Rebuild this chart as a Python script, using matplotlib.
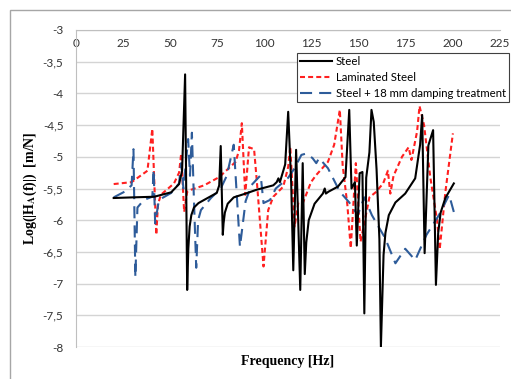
import numpy as np
import matplotlib
matplotlib.use("Agg")
from matplotlib import pyplot as plt
from matplotlib.ticker import FuncFormatter, MultipleLocator

plt.rcParams['font.family'] = ['Lato', 'DejaVu Sans']
plt.rcParams['mathtext.fontset'] = 'stix'

# Steel
steel_f = [20, 30, 41.5, 50.5, 54.7, 56.3, 57.9, 59.0, 59.6, 60.3, 61.2, 62.6, 65, 68, 74.7, 76.0,
           76.8, 77.9, 78.3, 79, 80.5, 83.7, 90, 95.8, 104.7, 106.5, 107.4, 108.2, 111, 112.6,
           114.2, 115.3, 116.8, 119.0, 120.3, 121.4, 122.2, 123.5, 126.6, 131, 132, 132.6, 134, 139,
           143, 145, 146.2, 148, 149, 150.5, 152, 153, 154, 155.7, 156.8, 158, 159.5, 161,
           161.8, 163.2, 164.2, 166, 169.5, 174.7, 180, 182.6, 183.7, 185, 187, 189.5, 191, 192.2,
           193.5, 196, 200.5]
steel_h = [-5.65, -5.64, -5.63, -5.56, -5.43, -5.22, -3.70, -7.10, -6.45, -6.10, -5.92, -5.80, -5.73,
           -5.68, -5.57, -5.45, -4.83, -6.23, -6.05, -5.88, -5.74, -5.64, -5.58, -5.52, -5.45, -5.40,
           -5.34, -5.40, -5.12, -4.29, -5.42, -6.79, -4.89, -7.10, -5.10, -6.85, -6.35, -6.0, -5.74,
           -5.58, -5.50, -5.58, -5.55, -5.47, -5.32, -4.26, -5.50, -5.40, -6.40, -5.26, -5.24,
           -7.47, -5.33, -4.93, -4.26, -4.45, -5.2, -6.3, -8.0, -6.55, -6.2, -5.92, -5.72, -5.58,
           -5.34, -4.81, -4.34, -6.52, -4.82, -4.58, -7.02, -6.2, -5.88, -5.65, -5.42]

# Laminated Steel
lam_f = [20, 29.5, 37.9, 40.5, 42.6, 43.5, 45, 52, 54.7, 55.8, 57.4, 59, 61, 68, 76, 84.7,
         86.5, 88, 89.8, 91.8, 94.5, 96, 99.5, 102, 104.7, 110, 112.6, 113.7, 116, 118, 120.5,
         124.7, 127.4, 133.7, 137, 140, 141.5, 144, 145.8, 148.5, 151, 155.7, 159, 163,
         165.5, 166.8, 168.5, 173, 176.5, 178, 181, 182.3, 184.7, 188, 191.6, 193, 196, 200]
lam_h = [-5.43, -5.40, -5.22, -4.56, -6.23, -5.75, -5.60, -5.42, -5.25, -4.95, -5.87, -5.55,
         -5.52, -5.45, -5.32, -5.08, -4.9, -4.47, -5.60, -4.85, -4.88, -5.4, -6.73, -5.84,
         -5.63, -5.47, -5.16, -4.84, -6.10, -5.72, -5.72, -5.40, -5.29, -5.08, -4.81, -4.26,
         -5.13, -5.76, -6.44, -5.10, -6.34, -5.64, -5.56, -5.42, -5.22, -5.58, -5.3, -5.0,
         -4.85, -5.05, -4.6, -4.2, -4.5, -5.32, -6.0, -6.46, -5.56, -4.63]

# Steel + 18 mm damping treatment
damp_f = [20, 25.8, 29.5, 30.5, 31.5, 32.6, 36, 40.5, 41.2, 42, 44, 50.5, 54.7, 55.8, 57,
          59.5, 60.5, 61.5, 62.5, 63.8, 64.8, 66.3, 71.6, 76.8, 80, 83.7, 87, 90, 93, 98,
          99.5, 103, 106, 110, 112.6, 116, 119.6, 122, 125.5, 127.5, 129, 133.7, 140, 145,
          149.5, 153, 157, 164, 169.5, 174.7, 180, 186, 192.6, 198, 200.5]
damp_h = [-5.64, -5.55, -5.45, -4.88, -6.90, -5.80, -5.68, -5.63, -5.20, -6.05, -5.68, -5.57,
          -5.42, -5.1, -5.5, -4.72, -5.3, -4.62, -5.6, -6.75, -6.0, -5.84, -5.65, -5.50, -5.30,
          -4.81, -6.42, -5.70, -5.45, -5.29, -5.73, -5.68, -5.50, -5.40, -5.33, -5.18, -4.97,
          -4.95, -5.02, -5.10, -5.02, -5.18, -5.55, -5.72, -5.92, -5.64, -5.92, -6.28, -6.68,
          -6.45, -6.63, -6.23, -5.92, -5.60, -5.87]

W, H = 511, 379
fig = plt.figure(figsize=(W / 100, H / 100), dpi=100)
ax = fig.add_axes([76 / W, 1 - 347 / H, 424 / W, 317 / H])

# outer chart border
fig.patches.append(plt.Rectangle((10 / W, -0.1), 1.1, 1.1 - 10 / H, fill=False,
                                 edgecolor='#a6a6a6', lw=1, transform=fig.transFigure))

ax.plot(steel_f, steel_h, color='black', lw=1.5, label='Steel', zorder=3)
ax.plot(lam_f, lam_h, color='#ff2020', lw=1.5, dashes=(2.4, 1.5), label='Laminated Steel', zorder=2)
ax.plot(damp_f, damp_h, color='#2e5c9a', lw=1.5, dashes=(5.8, 3.4),
        label='Steel + 18 mm damping treatment', zorder=2)

ax.set_xlim(0, 225)
ax.set_ylim(-8, -3)
ax.xaxis.set_major_locator(MultipleLocator(25))
ax.yaxis.set_major_locator(MultipleLocator(0.5))
ax.yaxis.set_major_formatter(FuncFormatter(lambda v, p: ('%g' % v).replace('.', ',')))
ax.tick_params(axis='x', top=True, labeltop=True, bottom=False, labelbottom=False,
               length=0, pad=-14, labelsize=8.5, labelcolor='#333333')
ax.tick_params(axis='y', length=0, pad=9, labelsize=8.5, labelcolor='#333333')

ax.grid(axis='y', color='#d4d4d4', lw=1)
ax.set_axisbelow(True)
for s in ['right', 'bottom']:
    ax.spines[s].set_visible(False)
for s in ['left', 'top']:
    ax.spines[s].set_color('#bfbfbf')

ax.set_xlabel('Frequency [Hz]', family='Liberation Serif', fontweight='bold', fontsize=10)
ax.xaxis.set_label_coords(0.5, -0.025)
ax.set_ylabel(r'Log(|H$_\mathbf{A}$(f)|)  [m/N]', family='Liberation Serif',
              fontweight='bold', fontsize=10)
ax.yaxis.set_label_coords(-0.087, 0.5)

leg = ax.legend(loc='upper left', bbox_to_anchor=(297 / W, 1 - 53 / H),
                bbox_transform=fig.transFigure, fontsize=8.2, handlelength=2.8,
                labelspacing=0.4, borderpad=0.3, handletextpad=0.3, fancybox=False,
                framealpha=1, edgecolor='#404040', borderaxespad=0)
leg.get_frame().set_linewidth(0.8)

fig.savefig('out.png', dpi=100)
